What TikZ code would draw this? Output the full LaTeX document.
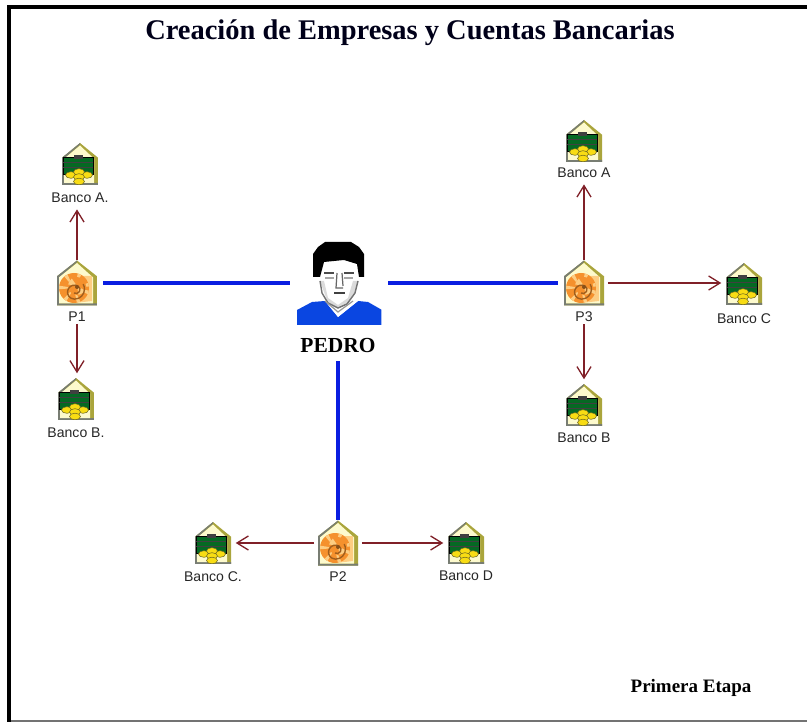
\documentclass[tikz,border=0pt]{standalone}
\usepackage{fontspec}
\setmainfont{Liberation Serif}
\newfontfamily\lblfont{Liberation Sans}
\usetikzlibrary{arrows.meta}
\definecolor{linkred}{RGB}{128,32,40}
\definecolor{linkblue}{RGB}{10,30,225}
\definecolor{housecream}{RGB}{253,250,205}
\definecolor{houseedge}{RGB}{170,165,60}
\definecolor{housegrey}{RGB}{120,125,115}
\definecolor{cashgreen}{RGB}{5,105,35}
\definecolor{coingold}{RGB}{248,220,20}
\definecolor{shellorange}{RGB}{245,145,45}
\definecolor{shelllight}{RGB}{253,205,130}
\definecolor{shirtblue}{RGB}{10,70,225}
% outline of the little house, w = half width, h = half height
\newcommand{\houseshape}[2]{(-#1,#2) -- (-#1,{-#2*0.3}) -- (0,-#2) -- (#1,{-#2*0.3}) -- (#1,#2) -- cycle}
\newcommand{\houseicon}[2]{%
  \fill[houseedge] \houseshape{#1}{#2};
  \fill[housegrey] (-#1,#2) -- (-#1,{-#2*0.3}) -- (0,-#2) -- (0,{-#2+1.5}) -- ({-#1+2},{-#2*0.25}) -- ({-#1+2},{#2-2}) -- (#1,{#2-2}) -- (#1,#2) -- cycle;
  \fill[housecream] ({-#1+2},{#2-2}) -- ({-#1+2},{-#2*0.25}) -- (0,{-#2+2.5}) -- ({#1-4},{-#2*0.25}) -- ({#1-4},{#2-2}) -- cycle;
}
\newcommand{\bankicon}{%
  \houseicon{18}{21}
  \fill[cashgreen] (-17,-7) rectangle (13,10);
  \draw[black,line width=.4pt] (-17,-7) rectangle (13,10);
  \draw[black!75,line width=.35pt] (-17,-2) -- (13,-2) (-17,3) -- (13,3);
  \fill[black!75] (-6,-9) rectangle (3,-5);
  \foreach \cx/\cy in {-9/11,7/11,-1/8,-1/13,-1/17.5}
    {\fill[coingold] (\cx,\cy) ellipse (5.5 and 3.3);
     \draw[olive!70!black,line width=.3pt] (\cx,\cy) ellipse (5.5 and 3.3);}
}
\newcommand{\shellicon}{%
  \houseicon{20}{22.5}
  \fill[shelllight] (2,-7) -- (15,-7) -- (15,18) -- (2,19.5) -- cycle;
  \fill[shellorange] (-3,5) circle (15);
  \foreach \ang in {10,65,...,340}
    \fill[shelllight] (-3,5) ++(\ang:15) arc (\ang:\ang+14:15) -- (-3,5) -- cycle;
  \fill[shellorange] (0,3) circle (9);
  \fill[shelllight] (0,3) ++(30:9) arc (30:80:9) -- (0,3) -- cycle;
  \fill[shelllight] (0,3) ++(190:9) arc (190:235:9) -- (0,3) -- cycle;
  \draw[shellorange!65!black,line width=.8pt] (-3,10) arc (120:-60:4) arc (-60:-270:7) arc (90:-30:10);
  \fill[shellorange!55!black] (0,4) circle (2);
}
\newcommand{\personicon}{%
  \fill[shirtblue] (-42,41) -- (-42,26) -- (-27,18) -- (-14,17) -- (-1,33) -- (19,17) -- (29,18) -- (43,26) -- (43,41) -- cycle;
  \fill[white] (-19,-26) -- (18,-26) -- (21,-5) -- (17,12) -- (19,17) -- (-1,33) -- (-14,17) -- (-15,12) -- (-21,-5) -- cycle;
  \fill[black!14] (-19,-3) -- (-15,-3) -- (-11,14) -- (-1,21) -- (9,14) -- (14,-3) -- (19,-3) -- (16,10) -- (8,20) -- (-1,24) -- (-11,19) -- cycle;
  \draw[black!55,line width=.8pt] (-19,-3) -- (-17,9) -- (-11,19) -- (-1,24) -- (8,20) -- (16,9) -- (19,-3);
  \draw[black!40,line width=.7pt] (-14,17) -- (-1,28) -- (14,17);
  \fill[black] (-26,-7) -- (-26,-30) -- (-21,-37) -- (-14,-42) -- (12,-42) -- (20,-37) -- (25,-30) -- (25,-7) -- (20,-7) -- (18,-20) -- (5,-24) -- (-15,-22) -- (-19,-7) -- cycle;
  \draw[black!70,line width=1pt] (-15,-11) -- (-5,-11) (5,-11) -- (15,-11);
  \draw[black!35,line width=1pt] (-14,-6) -- (-5,-6) (5,-6) -- (14,-6);
  \draw[black!60,line width=.7pt] (-2,-11) -- (-3,4) -- (4,4) (3,-11) -- (4,2);
  \draw[black!75,line width=1pt] (-5,9) -- (6,9);
}
\begin{document}
\begin{tikzpicture}[x=0.02cm,y=-0.02cm]
    \tikzstyle{wire}  = [line width=1.85pt,draw=linkblue,shorten <=3.4pt,shorten >=3.4pt]
    \tikzstyle{dedge} = [line width=.75pt,draw=linkred,shorten >=2.5pt,-{Straight Barb[length=6.5pt,width=8pt]}]
    \tikzstyle{bank}=[
      inner sep=0,
      minimum width=0.72cm,
      minimum height=0.84cm,
      path picture={\begin{scope}[shift={(path picture bounding box.center)}]\bankicon\end{scope}},
    ]
    \tikzstyle{company}=[
      inner sep=0,
      minimum width=0.8cm,
      minimum height=0.9cm,
      path picture={\begin{scope}[shift={(path picture bounding box.center)}]\shellicon\end{scope}},
    ]
    \tikzstyle{person}=[
      inner sep=0,
      minimum width=1.7cm,
      minimum height=1.72cm,
      path picture={\begin{scope}[shift={(path picture bounding box.center)}]\personicon\end{scope}},
    ]
    \tikzstyle{lbl}=[inner sep=1pt,font=\lblfont\fontsize{8}{9}\selectfont,text=black!85]
    
    \useasboundingbox (0,0) rectangle (807,722);
    \draw[line width=2.3pt] (807,7) -- (9,7) -- (9,722);
    \draw[line width=1.2pt,black!55] (11,721) -- (807,721);
    
    \node[font=\bfseries\fontsize{16.2}{20}\selectfont,text=black!90!blue] (title) at (410,33) {Creación de Empresas y Cuentas Bancarias};
    \node[font=\bfseries\fontsize{10.8}{12}\selectfont] (stage) at (691,688) {Primera Etapa};
    
    \node[person] (pedro) at (339,284) {};
    \node[font=\bfseries\fontsize{12.2}{15}\selectfont,inner sep=1pt] (pedrot) at (338,346) {PEDRO};
    
    \node[company] (p1) at (77,283) {};
    \node[lbl] (p1t) at (77,317) {P1};
    \node[company] (p2) at (338,543) {};
    \node[lbl] (p2t) at (338,577) {P2};
    \node[company] (p3) at (584,283) {};
    \node[lbl] (p3t) at (584,317) {P3};
    
    \node[bank] (b1) at (80,164) {};
    \node[lbl] (b1t) at (80,198) {Banco A.};
    \node[bank] (b2) at (76,399) {};
    \node[lbl] (b2t) at (76,433) {Banco B.};
    \node[bank] (b3) at (213,543) {};
    \node[lbl] (b3t) at (213,577) {Banco C.};
    \node[bank] (b4) at (466,543) {};
    \node[lbl] (b4t) at (466,576) {Banco D};
    \node[bank] (b5) at (584,141) {};
    \node[lbl] (b5t) at (584,173) {Banco A};
    \node[bank] (b6) at (584,405) {};
    \node[lbl] (b6t) at (584,438) {Banco B};
    \node[bank] (b7) at (744,284) {};
    \node[lbl] (b7t) at (744,319) {Banco C};
    
    \draw[wire] (p1)--(p1-|pedro.west);
    \draw[wire] (p3)--(p3-|pedro.east);
    \draw[wire,shorten <=3.5pt,shorten >=0pt] (pedrot)--(p2);
    
    \draw[dedge] (p1)--(p1|-b1t.south);
    \draw[dedge] (p1t)--(p1|-b2.north);
    \draw[dedge,shorten <=2pt] (p2)--(b3);
    \draw[dedge,shorten <=2pt] (p2)--(b4);
    \draw[dedge] (p3)--(b5t);
    \draw[dedge] (p3t)--(b6);
    \draw[dedge,shorten <=2pt] (p3)--(p3-|b7.west);
  \end{tikzpicture}
\end{document}
